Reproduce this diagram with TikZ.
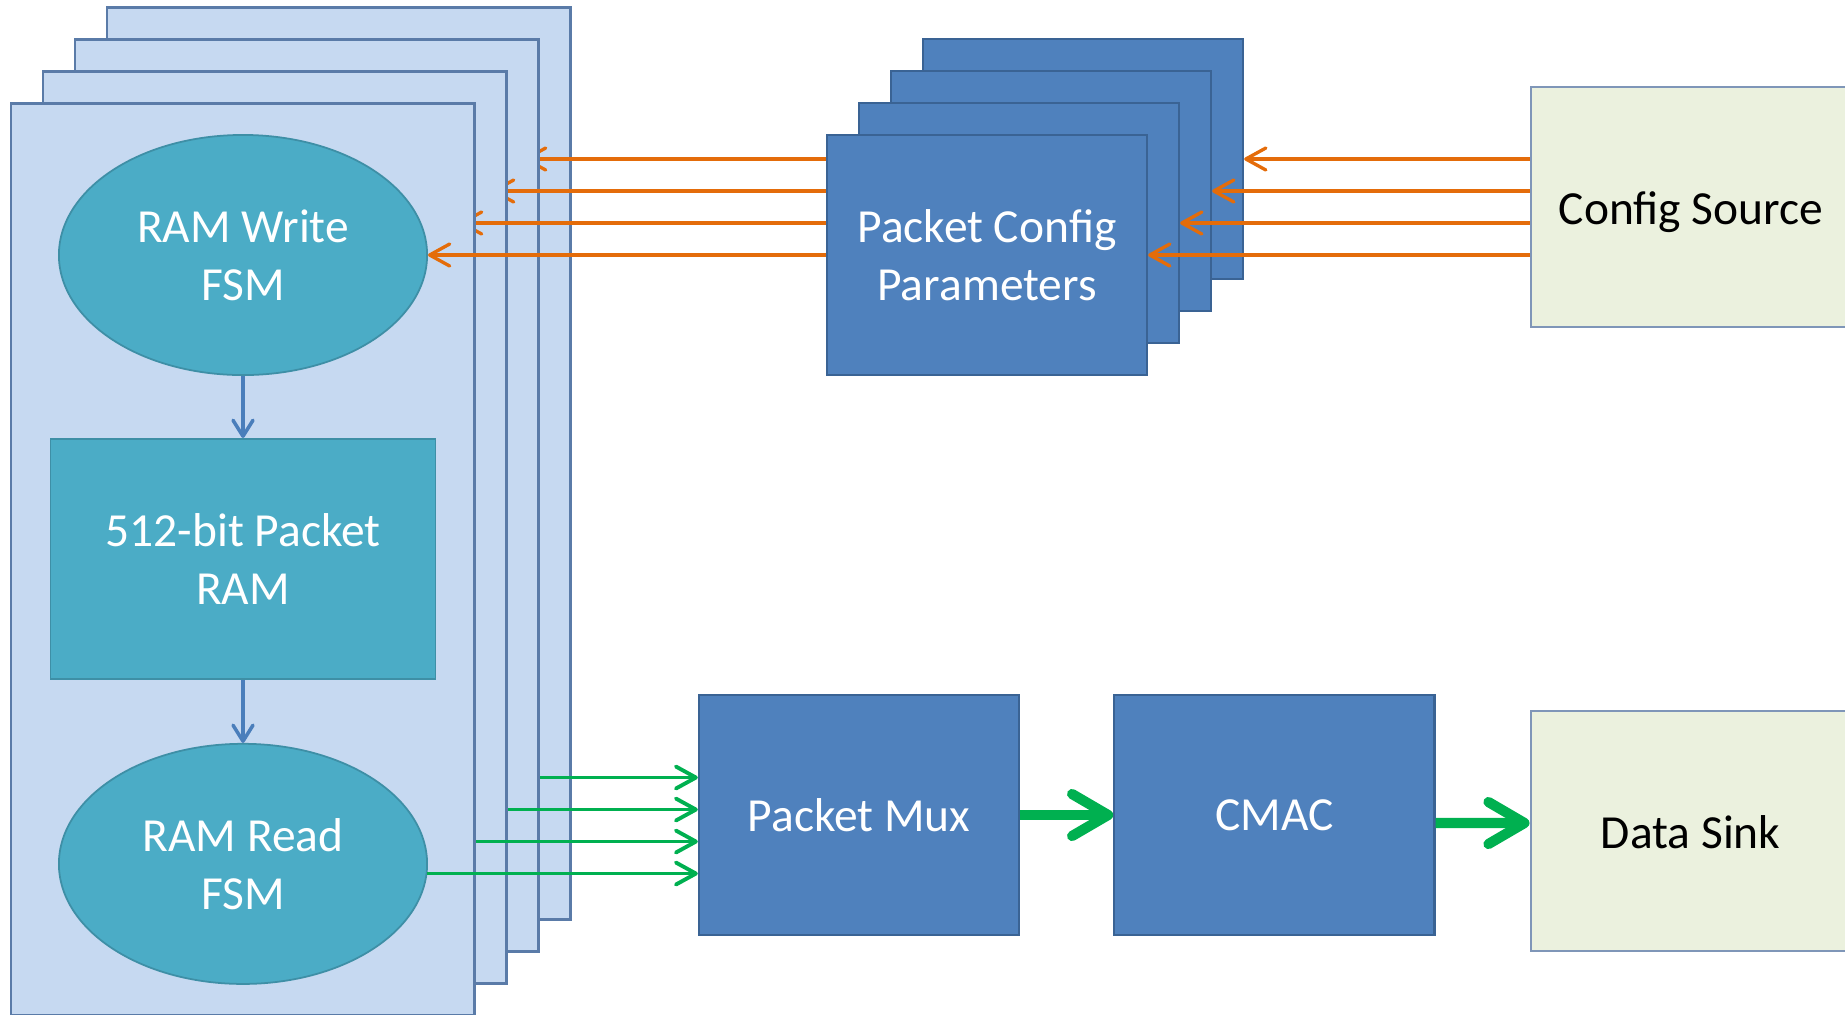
\documentclass[tikz,border=0pt]{standalone}
\usepackage{fontspec}
\setmainfont{Carlito}
\usetikzlibrary{shapes,arrows.meta,positioning}

\definecolor{stackfill}{HTML}{C6D9F1}
\definecolor{stackline}{HTML}{5A7BA8}
\definecolor{fsmfill}{HTML}{4BACC6}
\definecolor{fsmline}{HTML}{3E8FA6}
\definecolor{blockfill}{HTML}{4F81BD}
\definecolor{blockline}{HTML}{3A6394}
\definecolor{srcfill}{HTML}{EBF1DE}
\definecolor{srcline}{HTML}{7F96B8}
\definecolor{cfgorange}{HTML}{E46C0A}
\definecolor{datagreen}{HTML}{00B050}
\definecolor{flowblue}{HTML}{4A7EBB}

\tikzstyle{stackbox} = [rectangle, draw=stackline, fill=stackfill, line width=0.8pt, minimum width=4.63cm, minimum height=9.11cm, inner sep=0pt]
\tikzstyle{fsm} = [ellipse, draw=fsmline, fill=fsmfill, line width=0.5pt, minimum width=3.68cm, minimum height=2.4cm, inner sep=0pt, text=white, align=center, font=\fontsize{13.5}{16.5}\selectfont]
\tikzstyle{ram} = [rectangle, draw=fsmline, fill=fsmfill, line width=0.5pt, minimum width=3.85cm, minimum height=2.4cm, inner sep=0pt, text=white, align=center, font=\fontsize{13.5}{16.5}\selectfont]
\tikzstyle{block} = [rectangle, draw=blockline, fill=blockfill, line width=0.6pt, minimum width=3.2cm, minimum height=2.4cm, inner sep=0pt, text=white, align=center, font=\fontsize{13.5}{16.5}\selectfont]
\tikzstyle{io} = [rectangle, draw=srcline, fill=srcfill, line width=0.6pt, minimum width=3.2cm, minimum height=2.4cm, inner sep=0pt, text=black, text height=12.8pt, text depth=2.8pt, font=\fontsize{13.5}{16.5}\selectfont]
\tikzstyle{flow} = [draw=flowblue, line width=1pt, -{Straight Barb[length=1.6mm, width=2mm, round]}]
\tikzstyle{cfgline} = [draw=cfgorange, line width=0.95pt, -{Straight Barb[length=2mm, width=2.2mm, round]}]
\tikzstyle{dataline} = [draw=datagreen, line width=1.1pt, -{Straight Barb[length=2mm, width=2.2mm, round]}]
\tikzstyle{bigline} = [draw=datagreen, line width=2.9pt, -{Straight Barb[length=3.6mm, width=4.2mm, round]}]

\begin{document}
\begin{tikzpicture}[x=0.01cm, y=-0.01cm]
	\useasboundingbox (0,0) rectangle (1845,1014);
	\clip (0,0) rectangle (1845,1014);

	\foreach \k in {3,2,1}
		\node [block] (cfg\k) at ({987+32*\k}, {255-32*\k}) {};
	\node [block] (cfg0) at (987,255) {Packet Config\\Parameters};

	\node [io] (src) at (1691,207) {Config Source};
	\node [block] (mux) at (859,815) {Packet Mux};
	\node [block, right=0.93cm of mux] (cmac) {CMAC};
	\node [io, right=0.94cm of cmac, yshift=-0.16cm] (sink) {Data Sink};

	\foreach \k in {3,2,1} {
		\node [stackbox] (stack\k) at ({242.7+32*\k}, {559.5-32*\k}) {};
		\node [fsm] (wfsm\k) at ({243+32*\k}, {255-32*\k}) {};
		\node [ram, below=0.62cm of wfsm\k] (ram\k) {};
		\node [fsm, below=0.63cm of ram\k] (rfsm\k) {};
		\path [cfgline] (cfg0.west |- wfsm\k) -- (wfsm\k.east);
		\path [dataline] (rfsm\k.-3) -- (mux.west |- rfsm\k.-3);
	}

	\node [stackbox] (stack0) at (242.7,559.5) {};
	\node [fsm] (wfsm0) at (243,255) {RAM Write\\FSM};
	\node [ram, below=0.62cm of wfsm0] (ram0) {512-bit Packet\\RAM};
	\node [fsm, below=0.63cm of ram0] (rfsm0) {RAM Read\\FSM};

	\path [flow] (wfsm0.south) -- (ram0.north);
	\path [flow] (ram0.south) -- (rfsm0.north);
	\path [cfgline] (cfg0.west |- wfsm0) -- (wfsm0.east);
	\path [dataline] (rfsm0.-3) -- (mux.west |- rfsm0.-3);

	\foreach \k in {3,2,1,0}
		\path [cfgline] (src.west |- cfg\k.east) -- (cfg\k.east);

	\path [bigline] (mux.east) -- (cmac.west);
	\path [bigline] ([yshift=-0.08cm]cmac.east) -- ([yshift=0.08cm]sink.west);
\end{tikzpicture}
\end{document}
